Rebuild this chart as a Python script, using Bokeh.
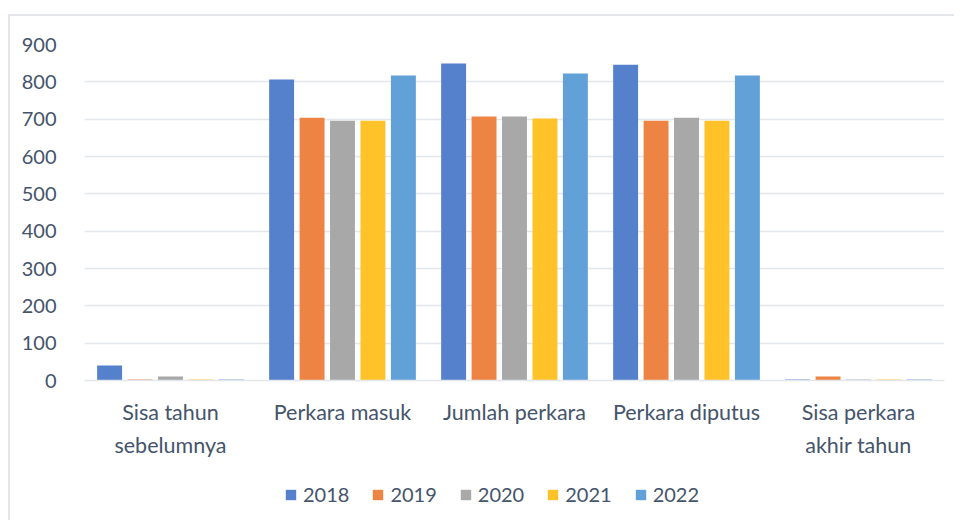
from bokeh.plotting import figure
from bokeh.layouts import column
from bokeh.models import FactorRange, Range1d, Legend, LegendItem, ColumnDataSource, FixedTicker
from bokeh.transform import dodge
from bokeh.embed import file_html
from bokeh.resources import INLINE

categories = ["Sisa tahun\nsebelumnya", "Perkara masuk", "Jumlah perkara",
              "Perkara diputus", "Sisa perkara\nakhir tahun"]
years = ["2018", "2019", "2020", "2021", "2022"]
v2018 = [40, 806, 849, 846, 3]
v2019 = [3, 704, 707, 696, 11]
v2020 = [11, 696, 707, 704, 3]
v2021 = [3, 696, 702, 696, 3]
v2022 = [3, 817, 822, 817, 3]
y_ticks = [0, 100, 200, 300, 400, 500, 600, 700, 800, 900]

colors = ["#5580CC", "#EE8444", "#A8A8A8", "#FFC228", "#62A0D8"]
series = [v2018, v2019, v2020, v2021, v2022]

TXT = "#44546A"
FONT = "Lato"
GRID = "#E3E6EA"

src = ColumnDataSource(dict(cat=categories, **{y: s for y, s in zip(years, series)}))

p = figure(x_range=FactorRange(*categories, range_padding=0), y_range=Range1d(0, 900),
           width=944, height=454, output_backend="svg", toolbar_location=None,
           min_border_left=74, min_border_right=10, min_border_top=28, min_border_bottom=90)
p.outline_line_color = None
p.background_fill_color = "white"
p.border_fill_color = "white"

offsets = [-0.354, -0.177, 0.0, 0.177, 0.354]
for y, c, off in zip(years, colors, offsets):
    p.vbar(x=dodge("cat", off, range=p.x_range), top=y, width=0.145, source=src,
           fill_color=c, line_color=None)

p.xgrid.grid_line_color = None
p.ygrid.grid_line_color = GRID
p.ygrid.grid_line_width = 1.5
p.ygrid.ticker = FixedTicker(ticks=y_ticks)

p.yaxis.ticker = FixedTicker(ticks=y_ticks)
p.yaxis.axis_line_color = None
p.yaxis.major_tick_line_color = None
p.yaxis.minor_tick_line_color = None
p.yaxis.major_label_standoff = 22
p.yaxis.major_label_text_font = FONT
p.yaxis.major_label_text_font_size = "20px"
p.yaxis.major_label_text_color = TXT

p.xaxis.axis_line_color = GRID
p.xaxis.axis_line_width = 1.5
p.xaxis.major_tick_line_color = None
p.xaxis.minor_tick_line_color = None
p.xaxis.major_label_standoff = 12
p.xaxis.major_label_text_font = FONT
p.xaxis.major_label_text_font_size = "21.5px"
p.xaxis.major_label_text_color = TXT
p.xaxis.major_label_text_line_height = 1.3

# legend strip below the chart (bars here fall outside the visible y range;
# they only serve as legend entries)
lf = figure(width=944, height=50, x_range=p.x_range, y_range=Range1d(5000, 6000),
            output_backend="svg", toolbar_location=None,
            x_axis_location=None, y_axis_location=None,
            min_border_left=74, min_border_right=10, min_border_top=0, min_border_bottom=0)
lf.outline_line_color = None
lf.xgrid.visible = False
lf.ygrid.visible = False
items = []
for y, c, off in zip(years, colors, offsets):
    r = lf.vbar(x=dodge("cat", off, range=p.x_range), top=y, width=0.145, source=src,
                fill_color=c, line_color=None)
    items.append(LegendItem(label=y, renderers=[r]))
legend = Legend(items=items, orientation="horizontal", location=(200, 14),
                glyph_width=13, glyph_height=13, label_standoff=6, spacing=22,
                padding=0, margin=0, border_line_color=None, background_fill_alpha=0,
                label_text_font=FONT, label_text_font_size="20px", label_text_color=TXT)
lf.add_layout(legend, "center")

layout = column(p, lf, spacing=0)
layout.styles = {"border-top": "2px solid " + GRID, "border-left": "2px solid " + GRID,
                 "margin-top": "14px", "margin-left": "8px"}

open("out.html", "w").write(file_html(layout, INLINE))
